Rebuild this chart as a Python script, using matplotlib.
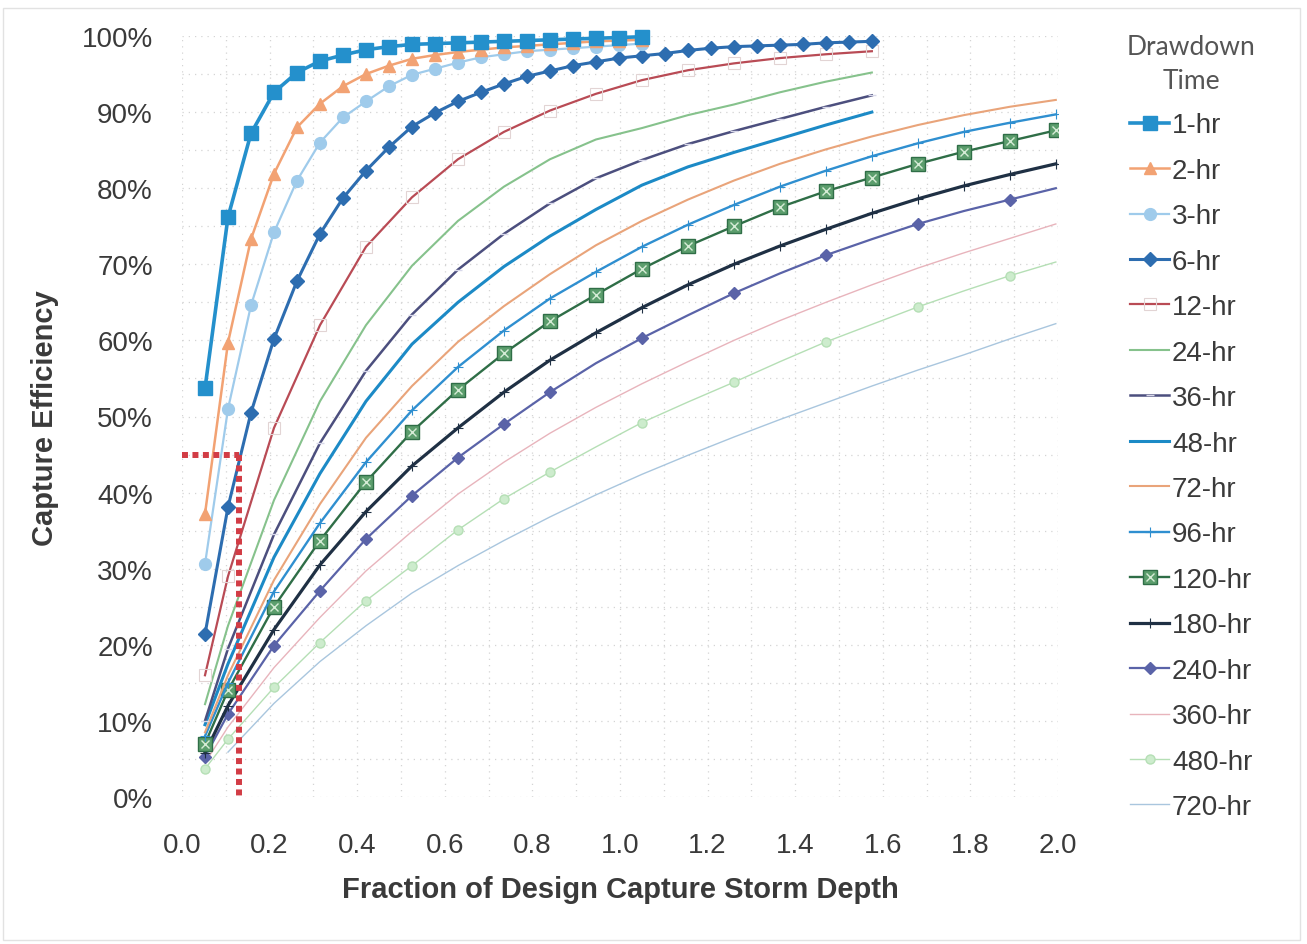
import matplotlib.pyplot as plt
from matplotlib.legend_handler import HandlerTuple
from matplotlib.ticker import FuncFormatter, MultipleLocator
from matplotlib.patches import Rectangle

plt.rcParams['font.family'] = ['Liberation Sans', 'DejaVu Sans']

# x positions (fraction of design capture storm depth)
x_fine = [0.0525, 0.105, 0.1575, 0.21, 0.2625, 0.315, 0.3675, 0.42, 0.4725, 0.525,
          0.5775, 0.63, 0.6825, 0.735, 0.7875, 0.84, 0.8925, 0.945, 0.9975, 1.05,
          1.1025, 1.155, 1.2075, 1.26, 1.3125, 1.365, 1.4175, 1.47, 1.5225, 1.575]
x_coarse = [0.0525, 0.105, 0.21, 0.315, 0.42, 0.525, 0.63, 0.735, 0.84, 0.945,
            1.05, 1.155, 1.26, 1.365, 1.47, 1.575, 1.68, 1.785, 1.89, 1.995]

# capture efficiency (%) per drawdown time
hr1 = [53.7, 76.2, 87.2, 92.6, 95.2, 96.7, 97.5, 98.2, 98.6, 98.9,
       99.0, 99.1, 99.2, 99.3, 99.4, 99.5, 99.6, 99.7, 99.8, 99.9]
hr2 = [37.2, 59.7, 73.3, 81.9, 88.0, 91.1, 93.4, 95.0, 96.1, 97.0,
       97.5, 97.9, 98.2, 98.5, 98.7, 98.9, 99.1, 99.3, 99.4, 99.5]
hr3 = [30.6, 51.0, 64.6, 74.2, 81.0, 86.0, 89.3, 91.4, 93.4, 94.9,
       95.7, 96.5, 97.2, 97.6, 98.0, 98.2, 98.4, 98.6, 98.8, 99.0]
hr6 = [21.4, 38.1, 50.5, 60.2, 67.8, 74.0, 78.7, 82.3, 85.4, 88.1,
       89.9, 91.4, 92.6, 93.7, 94.7, 95.4, 96.1, 96.6, 97.1, 97.4,
       97.7, 98.1, 98.4, 98.6, 98.7, 98.8, 98.9, 99.1, 99.2, 99.3]
hr12 = [16.0, 29.0, 48.5, 62.0, 72.3, 78.8, 83.8, 87.4, 90.2, 92.4,
        94.2, 95.5, 96.4, 97.1, 97.6, 98.0]
hr24 = [12.2, 22.5, 39.0, 52.0, 62.0, 69.8, 75.7, 80.2, 83.8, 86.4,
        87.9, 89.6, 91.0, 92.6, 94.0, 95.2]
hr36 = [10.0, 19.5, 34.5, 46.5, 56.0, 63.4, 69.3, 74.0, 78.0, 81.3,
        83.7, 85.8, 87.5, 89.1, 90.7, 92.2]
hr48 = [9.5, 17.5, 31.5, 42.5, 52.0, 59.5, 65.0, 69.7, 73.7, 77.2,
        80.4, 82.8, 84.7, 86.5, 88.3, 90.0]
hr72 = [8.5, 16.0, 28.5, 38.5, 47.2, 54.0, 59.8, 64.5, 68.7, 72.5,
        75.7, 78.5, 81.0, 83.2, 85.1, 86.8, 88.3, 89.6, 90.7, 91.6]
hr96 = [8.0, 15.0, 27.0, 36.0, 44.0, 50.8, 56.5, 61.3, 65.5, 69.0,
        72.3, 75.2, 77.8, 80.2, 82.3, 84.2, 85.9, 87.4, 88.6, 89.7]
hr120 = [7.0, 14.0, 25.0, 33.7, 41.4, 48.0, 53.5, 58.3, 62.5, 66.0,
         69.4, 72.4, 75.0, 77.5, 79.6, 81.4, 83.2, 84.8, 86.2, 87.6]
hr180 = [5.8, 12.0, 22.0, 30.5, 37.5, 43.5, 48.5, 53.2, 57.4, 61.0,
         64.3, 67.3, 70.0, 72.4, 74.6, 76.7, 78.6, 80.3, 81.8, 83.2]
hr240 = [5.3, 10.9, 19.9, 27.1, 33.9, 39.6, 44.6, 49.0, 53.2, 57.0,
         60.3, 63.3, 66.2, 68.8, 71.2, 73.3, 75.3, 77.0, 78.5, 80.0]
hr360 = [4.5, 9.2, 17.0, 23.6, 29.7, 34.9, 39.8, 44.0, 47.8, 51.2,
         54.3, 57.2, 60.0, 62.6, 65.0, 67.3, 69.5, 71.5, 73.4, 75.3]
hr480 = [3.7, 7.6, 14.4, 20.3, 25.8, 30.4, 35.1, 39.2, 42.7, 46.0,
         49.2, 51.9, 54.5, 57.2, 59.8, 62.1, 64.4, 66.5, 68.5, 70.3]
hr720 = [5.9, 12.3, 17.8, 22.5, 26.8, 30.4, 33.7, 36.8, 39.7,
         42.4, 44.9, 47.3, 49.6, 51.8, 54.0, 56.1, 58.1, 60.2, 62.2]

# design example read-off
example_x = [0.0, 0.13, 0.13]
example_y = [45, 45, 0]

fig = plt.figure(figsize=(13.07, 9.45), dpi=100)
ax = fig.add_axes([182 / 1307, 1 - 798 / 945, (1058 - 182) / 1307, (798 - 37) / 945])

handles = []
labels = []

def add(line, label):
    handles.append(line)
    labels.append(label)

sparse = [0, 1, 2, 3, 4, 5, 6, 7, 8, 10, 12, 14, 16, 18]

l, = ax.plot(x_fine[:20], hr1, color='#2490cc', lw=2.6, marker='s', ms=9.5, clip_on=False, zorder=20)
add(l, '1-hr')
l, = ax.plot(x_fine[:20], hr2, color='#f2a273', lw=1.8, marker='^', ms=8.5, clip_on=False, zorder=19)
add(l, '2-hr')
l, = ax.plot(x_fine[:20], hr3, color='#9fcbeb', lw=1.6, marker='o', ms=8.5, clip_on=False, zorder=18)
add(l, '3-hr')
l, = ax.plot(x_fine, hr6, color='#2d6db0', lw=2.2, marker='D', ms=7, clip_on=False, zorder=17)
add(l, '6-hr')
l, = ax.plot(x_coarse[:16], hr12, color='#b94b55', lw=1.6, marker='s', ms=9, mfc='none',
             mec='#e2d4d4', mew=0.8, zorder=16)
add(l, '12-hr')
l, = ax.plot(x_coarse[:16], hr24, color='#86c28c', lw=1.5, zorder=15)
add(l, '24-hr')
l, = ax.plot(x_coarse[:16], hr36, color='#4c4f7e', lw=1.8, marker='_', ms=6, mec='#d8d8ea', zorder=14)
add(l, '36-hr')
l, = ax.plot(x_coarse[:16], hr48, color='#1c8ac6', lw=2.2, zorder=13)
add(l, '48-hr')
l, = ax.plot(x_coarse, hr72, color='#e9a47a', lw=1.5, zorder=12)
add(l, '72-hr')
l, = ax.plot(x_coarse, hr96, color='#2f8fd0', lw=1.7, marker='+', ms=7, mew=0.8, zorder=11)
add(l, '96-hr')
l, = ax.plot(x_coarse, hr120, color='#2f6e47', lw=1.7, marker='s', ms=10,
             mfc='#5c9e6d', mec='#2f6e47', zorder=10)
lx, = ax.plot(x_coarse, hr120, ls='none', marker='x', ms=6, mew=1.0, color='#d6ecd6', zorder=10.5)
add((l, lx), '120-hr')
l, = ax.plot(x_coarse, hr180, color='#1f3044', lw=2.3, marker='+', ms=7, mew=0.8, zorder=9)
add(l, '180-hr')
l, = ax.plot(x_coarse, hr240, color='#5a63a8', lw=1.6, marker='D', ms=6.5, markevery=sparse, zorder=8)
add(l, '240-hr')
l, = ax.plot(x_coarse, hr360, color='#e8b4bc', lw=1.0, zorder=7)
add(l, '360-hr')
l, = ax.plot(x_coarse, hr480, color='#b5dfb5', lw=1.0, marker='o', ms=6.5, markevery=sparse,
             mfc='#cdeccd', mec='#b5dfb5', zorder=6)
add(l, '480-hr')
l, = ax.plot(x_coarse[1:], hr720, color='#a9c6de', lw=1.0, zorder=5)
add(l, '720-hr')

ax.plot(example_x[:2], example_y[:2], color='#d23c45', lw=4.3, ls=(0, (1, 0.75)), zorder=30)
ax.plot(example_x[1:], example_y[1:], color='#d23c45', lw=4.3, ls=(0, (1, 0.75)), zorder=30)

ax.set_xlim(0, 2.0)
ax.set_ylim(0, 100)
ax.xaxis.set_major_locator(MultipleLocator(0.2))
ax.xaxis.set_minor_locator(MultipleLocator(0.1))
ax.yaxis.set_major_locator(MultipleLocator(10))
ax.yaxis.set_minor_locator(MultipleLocator(5))
ax.xaxis.set_major_formatter(FuncFormatter(lambda v, p: f'{v:.1f}'))
ax.yaxis.set_major_formatter(FuncFormatter(lambda v, p: f'{v:.0f}%'))
ax.grid(which='both', color='#d4d4d4', ls=(0, (1, 4)), lw=0.9)
ax.tick_params(which='both', length=0, labelsize=20, colors='#3a3a3a')
ax.tick_params(axis='x', pad=25)
ax.tick_params(axis='y', pad=21)
for s in ax.spines.values():
    s.set_visible(False)

fig.text(620 / 1307, 1 - 890 / 945, 'Fraction of Design Capture Storm Depth', ha='center', va='center',
         fontsize=21, fontweight='bold', color='#3a3a3a')
fig.text(45 / 1307, 1 - 418 / 945, 'Capture Efficiency', ha='center', va='center', rotation=90,
         fontsize=21, fontweight='bold', color='#3a3a3a')

leg = fig.legend(handles, labels, loc='upper left', bbox_to_anchor=(1127 / 1307, 1 - 35 / 945),
                 frameon=False, fontsize=20, title='Drawdown\nTime', title_fontsize=19,
                 handlelength=1.4, handletextpad=0.1, labelspacing=0.7, borderpad=0, borderaxespad=0,
                 handler_map={tuple: HandlerTuple(ndivide=1)})
leg.get_title().set_multialignment('center')
leg.get_title().set_linespacing(1.45)
leg.get_title().set_color('#555555')
leg.get_title().set_family(['Lato', 'DejaVu Sans'])
for t in leg.get_texts():
    t.set_color('#3a3a3a')

fig.patches.append(Rectangle((0.002, 0.004), 0.993, 0.987, transform=fig.transFigure,
                             fill=False, edgecolor='#e2e2e2', lw=1.0))

fig.savefig('out.png', dpi=100)
